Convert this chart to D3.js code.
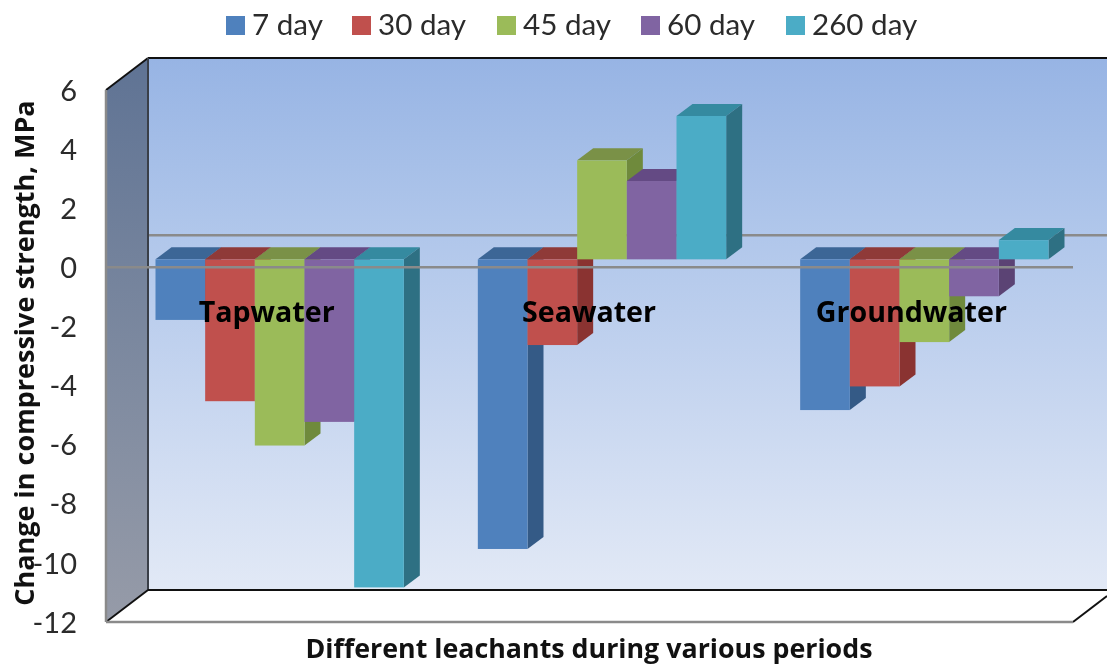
<!DOCTYPE html>
<html><head><meta charset="utf-8">
<style>html,body{margin:0;padding:0;background:#fff;overflow:hidden}svg{display:block;filter:blur(0.45px)}</style>
<script src="https://cdn.jsdelivr.net/npm/d3@7/dist/d3.min.js"></script>
</head><body><div id="chart"></div>
<script>
const categories = ["Tapwater", "Seawater", "Groundwater"];
const seriesNames = ["7 day", "30 day", "45 day", "60 day", "260 day"];
const day7 = [-2.05, -9.8, -5.1];
const day30 = [-4.8, -2.9, -4.3];
const day45 = [-6.3, 3.35, -2.8];
const day60 = [-5.5, 2.65, -1.25];
const day260 = [-11.1, 4.85, 0.65];
const seriesValues = [day7, day30, day45, day60, day260];
const frontColors = ["#4f81bd", "#c0504d", "#9bbb59", "#8064a2", "#4bacc6"];
const topColors = ["#3c6696", "#8f3a38", "#7a9147", "#644a84", "#358aa0"];
const sideColors = ["#345a86", "#8a3331", "#6f8a3c", "#5b4374", "#2e7083"];
const yTicks = [6, 4, 2, 0, -2, -4, -6, -8, -10, -12];

const W = 1107, H = 666;
const svg = d3.select("#chart").append("svg").attr("width", W).attr("height", H);
const x0 = d3.scaleBand().domain(categories).range([106, 1073]);
const xs = d3.scaleBand().domain(seriesNames).range([37, x0.bandwidth() - 37]);
const y = d3.scaleLinear().domain([-12, 6]).range([622, 90]);
const wall = {dx: 42, dy: -32}, barOff = {dx: 12.5, dy: -8}, barDepth = {dx: 16, dy: -12};
const yTop = y.range()[1], yBot = y.range()[0], xL = x0.range()[0], xR = x0.range()[1];

const defs = svg.append("defs");
function grad(id, stops) {
  const g = defs.append("linearGradient").attr("id", id).attr("x1", 0).attr("y1", 0).attr("x2", 0).attr("y2", 1);
  stops.forEach(s => g.append("stop").attr("offset", s[0]).attr("stop-color", s[1]));
}
grad("back", [[0, "#97b4e4"], [0.3, "#aec5ea"], [0.6, "#c4d4ef"], [1, "#e2e9f6"]]);
grad("left", [[0, "#5f7394"], [0.5, "#7b889f"], [1, "#969ba8"]]);

const pts = a => a.map(p => p.join(",")).join(" ");
// walls
svg.append("rect").attr("x", xL + wall.dx).attr("y", yTop + wall.dy)
  .attr("width", W - xL - wall.dx).attr("height", yBot - yTop).attr("fill", "url(#back)");
svg.append("polygon").attr("fill", "url(#left)")
  .attr("points", pts([[xL, yTop], [xL + wall.dx, yTop + wall.dy], [xL + wall.dx, yBot + wall.dy], [xL, yBot]]));
// back grid line at zero
svg.append("line").attr("x1", xL + wall.dx).attr("x2", W).attr("y1", y(0) + wall.dy).attr("y2", y(0) + wall.dy)
  .attr("stroke", "#8a8a8a").attr("stroke-width", 2.5);
// wall edges
const edge = (x1, y1, x2, y2, c, w) => svg.append("line").attr("x1", x1).attr("y1", y1).attr("x2", x2).attr("y2", y2).attr("stroke", c).attr("stroke-width", w);
edge(xL + wall.dx, yTop + wall.dy, W, yTop + wall.dy, "#111", 2);
edge(xL, yTop, xL + wall.dx, yTop + wall.dy, "#111", 2);
edge(xL + wall.dx, yTop + wall.dy, xL + wall.dx, yBot + wall.dy, "#3a3f48", 2);
edge(xL + wall.dx, yBot + wall.dy, W, yBot + wall.dy, "#111", 2);
edge(xL, yBot, xL + wall.dx, yBot + wall.dy, "#111", 2);
edge(xR, yBot, xR + 34, yBot - 26, "#111", 2);
edge(xL, yBot, xR, yBot, "#8a8a8a", 2.5);
edge(xL, yTop, xL, yBot, "#8a8a8a", 2.5);

// bars
categories.forEach((c, ci) => {
  seriesNames.forEach((s, si) => {
    const v = seriesValues[si][ci];
    const xa = x0(c) + xs(s) + barOff.dx, xb = xa + xs.bandwidth();
    const ya = y(Math.max(v, 0)) + barOff.dy, yb = y(Math.min(v, 0)) + barOff.dy;
    const g = svg.append("g");
    g.append("polygon").attr("fill", topColors[si])
      .attr("points", pts([[xa, ya], [xa + barDepth.dx, ya + barDepth.dy], [xb + barDepth.dx, ya + barDepth.dy], [xb, ya]]));
    g.append("polygon").attr("fill", sideColors[si])
      .attr("points", pts([[xb, ya], [xb + barDepth.dx, ya + barDepth.dy], [xb + barDepth.dx, yb + barDepth.dy], [xb, yb]]));
    g.append("rect").attr("x", xa).attr("y", ya).attr("width", xb - xa).attr("height", yb - ya).attr("fill", frontColors[si]);
  });
});
// front grid line at zero
svg.append("line").attr("x1", xL).attr("x2", xR).attr("y1", y(0)).attr("y2", y(0))
  .attr("stroke", "#8a8a8a").attr("stroke-width", 2.5);

// value axis
const axis = svg.append("g").attr("transform", `translate(${xL - 29},0)`)
  .call(d3.axisLeft(y).tickValues(yTicks).tickSize(0).tickPadding(0).tickFormat(d3.format("d")));
axis.select(".domain").remove();
axis.selectAll("text").attr("font-family", "Lato, sans-serif").attr("font-size", 29).attr("fill", "#2b2b2b").attr("dy", "0.35em")
  .text(d => String(d));

// category labels
svg.append("g").selectAll("text").data(categories).join("text")
  .attr("x", d => x0(d) + x0.bandwidth() / 2 - 0.5)
  .attr("y", y(-1.5)).attr("dy", "0.35em").attr("text-anchor", "middle")
  .attr("font-family", "'Open Sans', sans-serif").attr("font-weight", 700).attr("font-size", 28.6).attr("fill", "#000")
  .text(d => d);

// axis titles
svg.append("text").attr("x", 589).attr("y", 658).attr("text-anchor", "middle")
  .attr("font-family", "'Open Sans', sans-serif").attr("font-weight", 700).attr("font-size", 26.8).attr("fill", "#111")
  .text("Different leachants during various periods");
svg.append("text").attr("transform", "translate(34,353) rotate(-90)").attr("text-anchor", "middle")
  .attr("font-family", "'Open Sans', sans-serif").attr("font-weight", 700).attr("font-size", 27).attr("fill", "#111")
  .text("Change in compressive strength, MPa");

// legend
const legendX = d3.scaleOrdinal().domain(seriesNames).range([226, 352, 497, 641, 786]);
const lg = svg.append("g").selectAll("g").data(seriesNames).join("g")
  .attr("transform", d => `translate(${legendX(d)},16)`);
lg.append("rect").attr("width", 19).attr("height", 19).attr("fill", (d, i) => frontColors[i]);
lg.append("text").attr("x", 26).attr("y", 19).attr("font-family", "Lato, sans-serif").attr("font-size", 29.6).attr("fill", "#2b2b2b").text(d => d);
</script></body></html>
